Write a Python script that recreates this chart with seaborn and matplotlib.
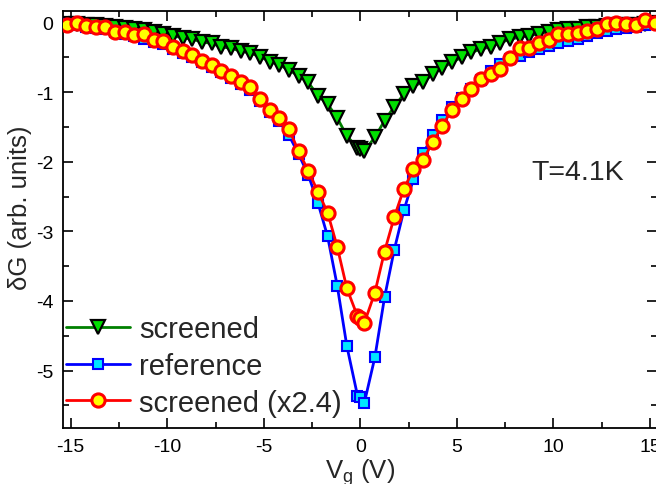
import numpy as np
import pandas as pd
import matplotlib
matplotlib.use("Agg")
import matplotlib.pyplot as plt
from matplotlib.ticker import MultipleLocator
import seaborn as sns

# ---------------- data ----------------
vg = [-15.2, -14.7, -14.2, -13.7, -13.2, -12.7, -12.2, -11.7, -11.2, -10.7,
      -10.2, -9.7, -9.2, -8.7, -8.2, -7.7, -7.2, -6.7, -6.2, -5.7,
      -5.2, -4.7, -4.2, -3.7, -3.2, -2.7, -2.2, -1.7, -1.2, -0.7,
      -0.15, 0.0, 0.2,
      0.75, 1.25, 1.75, 2.25, 2.75, 3.25, 3.75, 4.25, 4.75, 5.25,
      5.75, 6.25, 6.75, 7.25, 7.75, 8.25, 8.75, 9.25, 9.75, 10.25,
      10.75, 11.25, 11.75, 12.25, 12.75, 13.25, 13.75, 14.25, 14.75, 15.25]

screened = [-0.02, -0.02, -0.03, -0.04, -0.05, -0.06, -0.08, -0.10, -0.11, -0.13,
            -0.16, -0.19, -0.22, -0.24, -0.28, -0.30, -0.35, -0.37, -0.41, -0.44,
            -0.49, -0.56, -0.61, -0.68, -0.77, -0.86, -1.05, -1.17, -1.37, -1.63,
            -1.80, -1.82, -1.84,
            -1.65, -1.41, -1.21, -1.03, -0.91, -0.86, -0.74, -0.65, -0.57, -0.50,
            -0.43, -0.38, -0.35, -0.29, -0.24, -0.21, -0.19, -0.16, -0.13, -0.11,
            -0.10, -0.09, -0.07, -0.06, -0.05, -0.04, -0.04, -0.03, -0.02, -0.01]

reference = [-0.02, -0.04, -0.06, -0.08, -0.09, -0.13, -0.16, -0.20, -0.24, -0.28,
             -0.31, -0.38, -0.44, -0.50, -0.57, -0.64, -0.71, -0.79, -0.88, -0.97,
             -1.13, -1.29, -1.42, -1.62, -1.89, -2.19, -2.59, -3.07, -3.78, -4.65,
             -5.36, -5.38, -5.47,
             -4.81, -3.95, -3.27, -2.70, -2.25, -1.88, -1.62, -1.40, -1.22, -1.08,
             -0.95, -0.82, -0.70, -0.60, -0.53, -0.48, -0.43, -0.38, -0.34, -0.30,
             -0.27, -0.23, -0.19, -0.15, -0.12, -0.10, -0.08, -0.06, -0.04, -0.02]

screened_x24 = [-0.03, -0.01, -0.05, -0.07, -0.06, -0.14, -0.14, -0.18, -0.17, -0.25,
                -0.27, -0.35, -0.41, -0.47, -0.55, -0.61, -0.69, -0.77, -0.85, -0.93,
                -1.10, -1.25, -1.37, -1.53, -1.85, -2.13, -2.43, -2.73, -3.22, -3.82,
                -4.22, -4.24, -4.32,
                -3.88, -3.29, -2.80, -2.39, -2.11, -1.97, -1.72, -1.48, -1.25, -1.10,
                -0.95, -0.81, -0.74, -0.67, -0.51, -0.37, -0.36, -0.30, -0.25, -0.17,
                -0.17, -0.15, -0.12, -0.09, -0.02, -0.01, -0.02, -0.04, 0.04, -0.01]

labels = ["screened", "reference", "screened (x2.4)"]
x_ticks = [-15, -10, -5, 0, 5, 10, 15]
y_ticks = [-5, -4, -3, -2, -1, 0]

# ---------------- style ----------------
sns.set_style("ticks")
plt.rcParams["font.family"] = ["Liberation Sans", "DejaVu Sans"]
plt.rcParams["axes.unicode_minus"] = False
plt.rcParams["mathtext.fontset"] = "custom"
plt.rcParams["mathtext.rm"] = "Liberation Sans"
plt.rcParams["mathtext.it"] = "Liberation Sans:italic"

W, H = 656, 485
fig = plt.figure(figsize=(W / 100, H / 100), dpi=100)
left_px, right_px, top_px, bot_px = 63, 657, 11.7, 429.3
ax = fig.add_axes([left_px / W, 1 - bot_px / H, (right_px - left_px) / W, (bot_px - top_px) / H])

df = pd.DataFrame({"Vg": vg, "screened": screened, "reference": reference,
                   "screened_x24": screened_x24})

sns.lineplot(data=df, x="Vg", y="screened", ax=ax, estimator=None, sort=False,
             color="#008000", lw=2.0, marker="v", markersize=9.5,
             markerfacecolor="#00e000", markeredgecolor="black", markeredgewidth=1.6,
             label=labels[0], zorder=3)
sns.lineplot(data=df, x="Vg", y="reference", ax=ax, estimator=None, sort=False,
             color="#0000ff", lw=2.0, marker="s", markersize=7.2,
             markerfacecolor="#00e5ff", markeredgecolor="#0000ff", markeredgewidth=1.5,
             label=labels[1], zorder=4)
sns.lineplot(data=df, x="Vg", y="screened_x24", ax=ax, estimator=None, sort=False,
             color="#ff0000", lw=2.0, marker="o", markersize=9.5,
             markerfacecolor="#ffff00", markeredgecolor="#ff0000", markeredgewidth=2.2,
             label=labels[2], zorder=5)

ax.set_xlim(-15.4, 15.36)
ax.set_ylim(-5.83, 0.17)
ax.set_xticks(x_ticks)
ax.set_yticks(y_ticks)
ax.set_xticklabels([str(t) for t in x_ticks])
ax.set_yticklabels([str(t) for t in y_ticks])
ax.xaxis.set_minor_locator(MultipleLocator(2.5))
ax.yaxis.set_minor_locator(MultipleLocator(0.5))
ax.tick_params(which="both", direction="in", top=True, right=True, width=1.2,
               colors="black", labelsize=14, pad=7)
ax.tick_params(which="major", length=7)
ax.tick_params(which="minor", length=4)
for s in ax.spines.values():
    s.set_linewidth(1.3)
    s.set_color("black")

ax.set_xlabel(r"V$_{\mathrm{g}}$ (V)", fontsize=18.5, labelpad=1)
ax.set_ylabel("δG (arb. units)", fontsize=18.5)
ax.yaxis.set_label_coords(-0.052, 0.53)

ax.text(8.83, -2.15, "T=4.1K", fontsize=20.5, ha="left", va="center")

leg = ax.legend(loc="upper left", bbox_to_anchor=(66 / W, 1 - 316 / H),
                bbox_transform=fig.transFigure, frameon=False, fontsize=21,
                handlelength=2.2, handletextpad=0.3, labelspacing=0.3,
                borderpad=0, borderaxespad=0)

fig.savefig("out.png", dpi=100)
